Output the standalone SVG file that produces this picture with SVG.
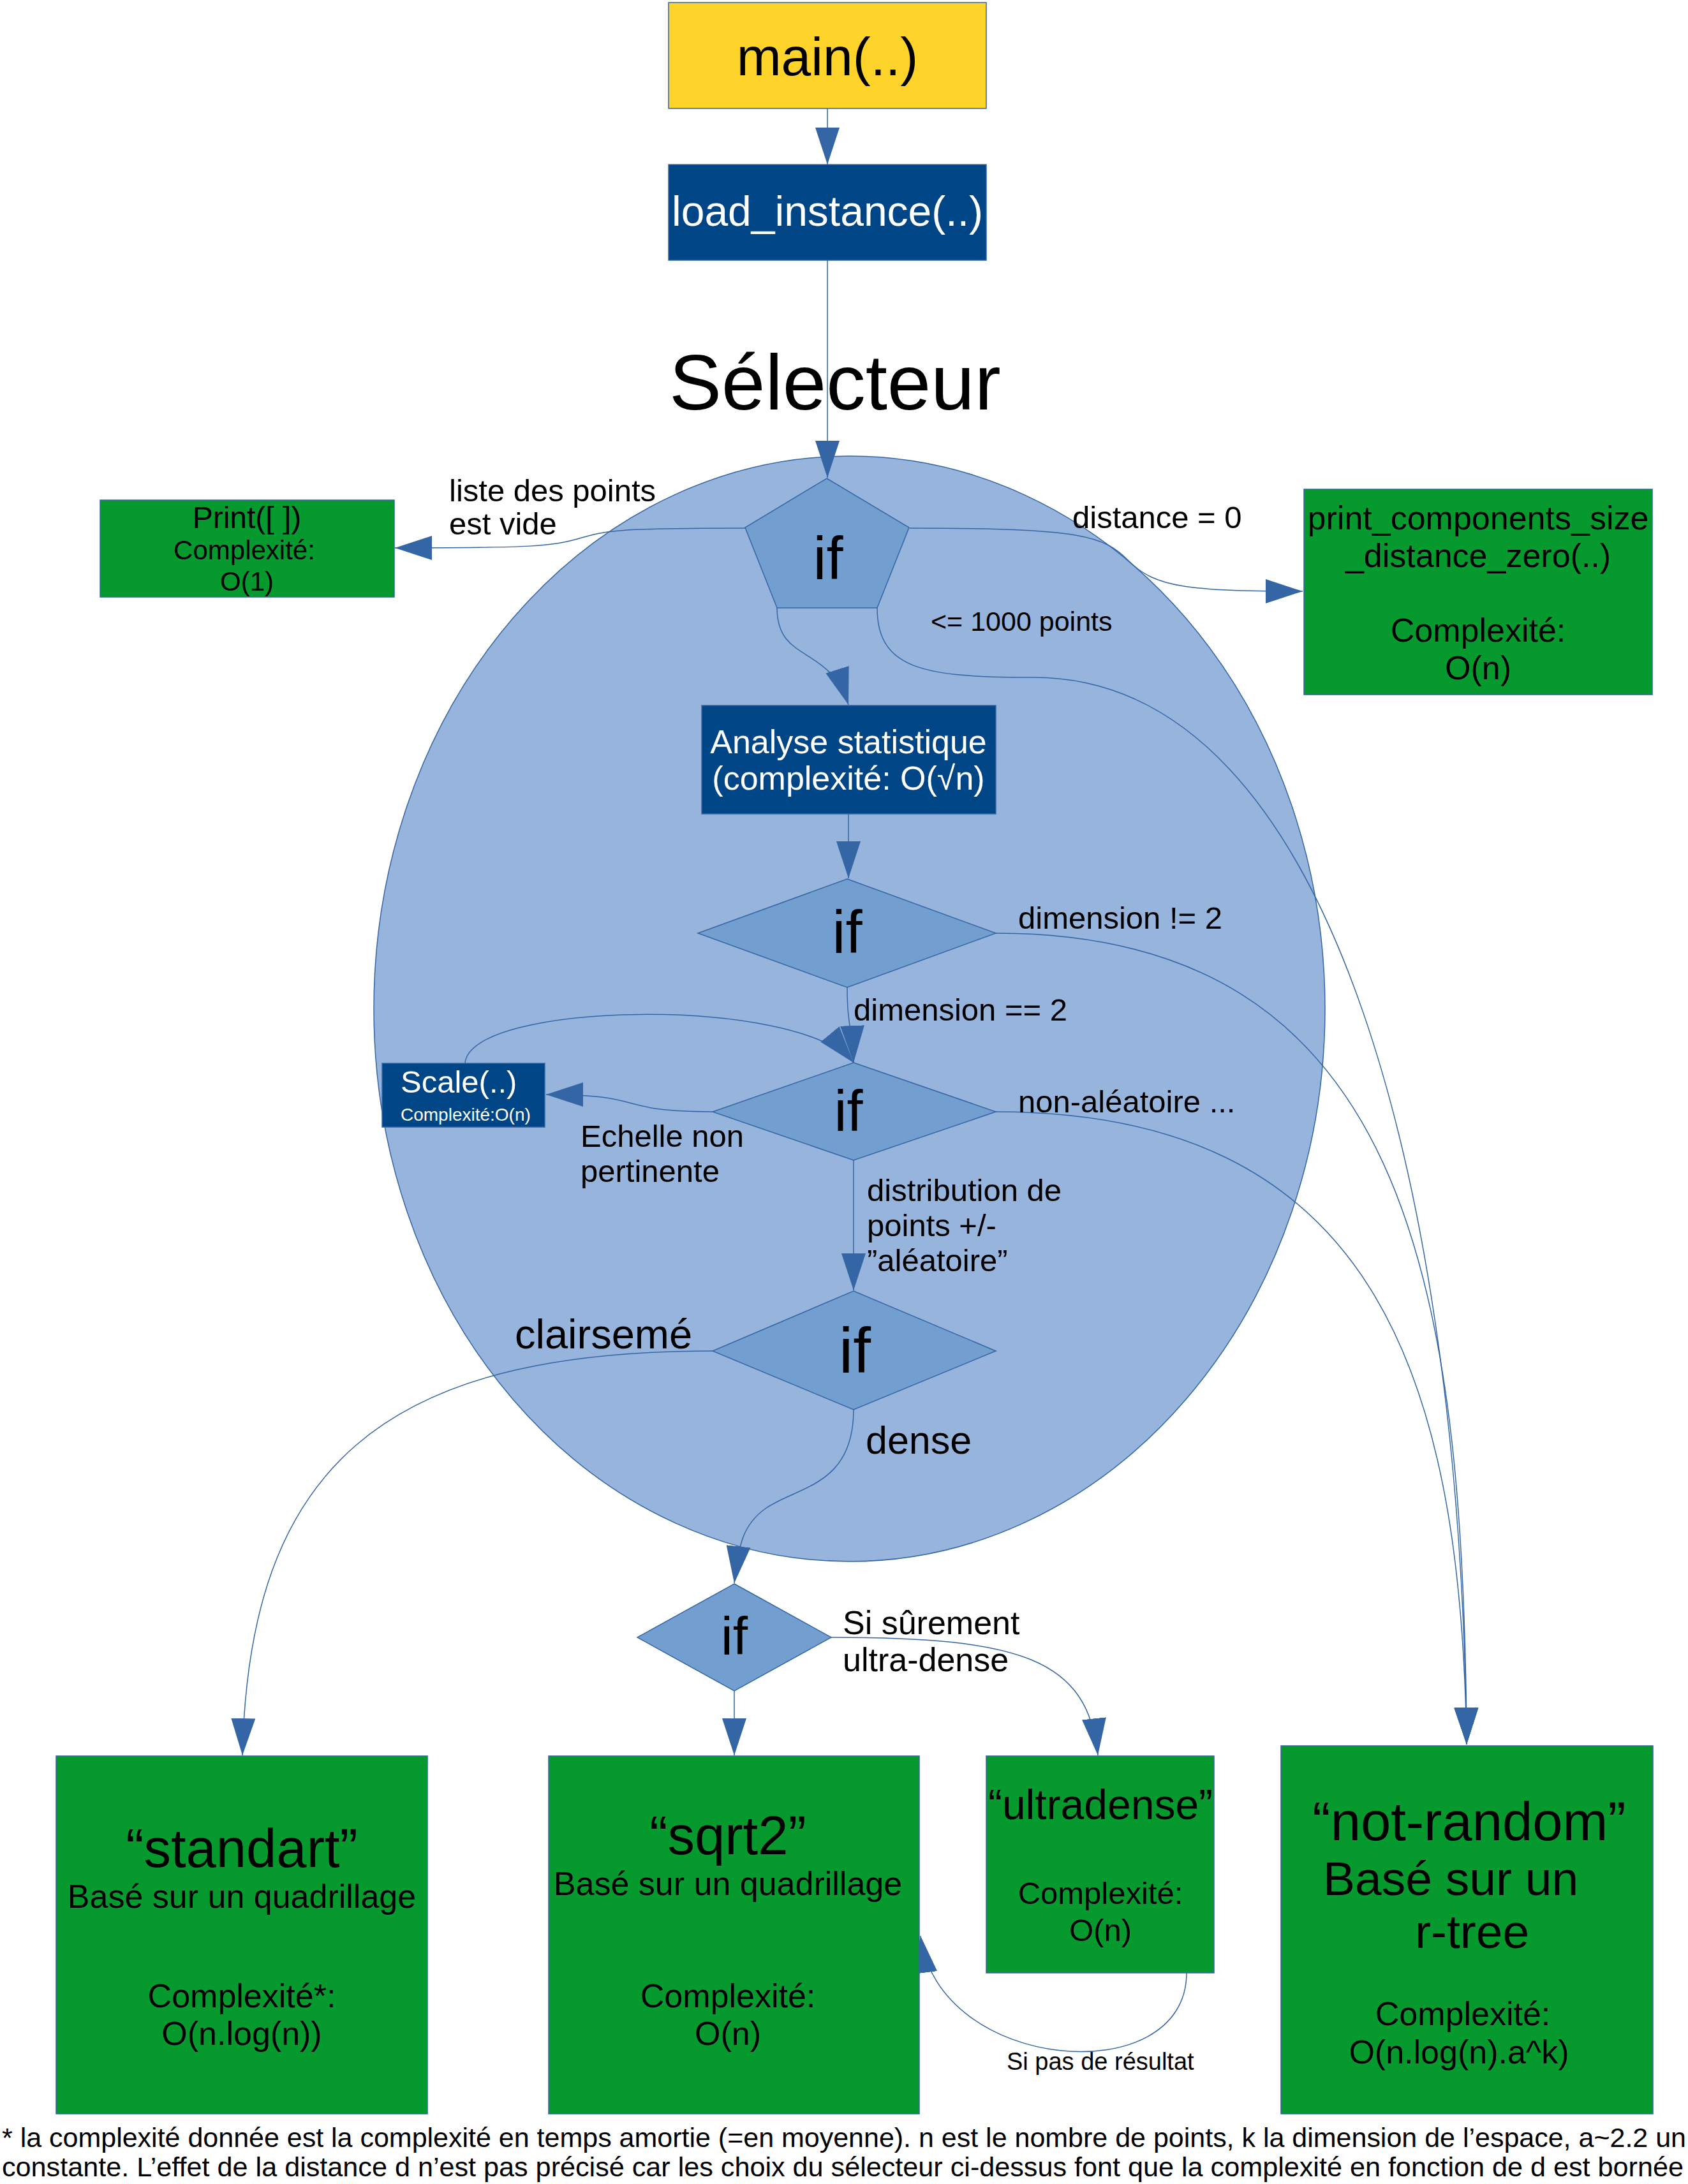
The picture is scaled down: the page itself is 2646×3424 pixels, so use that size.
<svg xmlns="http://www.w3.org/2000/svg" width="2646" height="3424" viewBox="0 0 2646 3424">
<style>
text{font-family:"Liberation Sans",Arial,Helvetica,sans-serif;fill:#000}
.w{fill:#fff}
.m{text-anchor:middle}
.box{stroke:#3465a4;stroke-width:1.5}
.g{fill:#069a2e}
.b{fill:#004586}
.dec{fill:#729fcf;stroke:#3465a4;stroke-width:1.5}
.con{fill:none;stroke:#3465a4;stroke-width:1.5;marker-end:url(#arr)}
.l49{font-size:49px}
</style>
<defs>
<marker id="arr" markerUnits="userSpaceOnUse" viewBox="0 0 58 38" refX="58" refY="19" markerWidth="58" markerHeight="38" orient="auto">
<path d="M0,0 L58,19 L0,38 Z" fill="#3465a4"/>
</marker>
</defs>
<rect width="2646" height="3424" fill="#fff"/>

<g id="selecteur">
<ellipse cx="1331.5" cy="1581.5" rx="745.5" ry="866.5" fill="#96b4dc" stroke="#3465a4" stroke-width="1.5"/>
<text x="1049" y="642" font-size="123">Sélecteur</text>
</g>

<g id="connectors">
<path class="con" d="M1297,170 L1297,258"/>
<path class="con" d="M1297,408 L1297,749"/>
<path class="con" d="M1168,828 C960,828 950,832 905,845 C865,856 840,859 619,859"/>
<path class="con" d="M1426,828 C1700,828 1730,840 1770,880 C1810,920 1860,927 2042,927"/>
<path class="con" d="M1218,953 C1218,1040 1300,1010 1330,1105"/>
<path class="con" d="M1375,953 C1375,1050 1450,1062 1620,1062 C2100,1062 2290,1900 2299,2735"/>
<path class="con" d="M1330,1276 L1330,1377"/>
<path class="con" d="M1561,1463 C2200,1463 2295,2000 2299,2735"/>
<path class="con" d="M1328,1548 C1328,1610 1336,1610 1338,1666"/>
<path class="con" d="M729,1667 C735,1570 1250,1560 1338,1666"/>
<path class="con" d="M1117,1743 C960,1743 1020,1716 856,1716"/>
<path class="con" d="M1561,1743 C2150,1743 2290,2150 2299,2735"/>
<path class="con" d="M1338,1819 L1338,2023"/>
<path class="con" d="M1117,2118 C600,2118 390,2300 380,2752"/>
<path class="con" d="M1338,2210 C1338,2330 1250,2330 1200,2365 C1165,2390 1158,2420 1151,2482"/>
<path class="con" d="M1303,2567 C1600,2567 1705,2600 1721,2752"/>
<path class="con" d="M1151,2651 L1151,2752"/>
<path class="con" d="M1860,3093 C1860,3280 1470,3250 1443,3035"/>
</g>

<g id="labels">
<text class="l49" x="704" y="786">liste des points</text>
<text class="l49" x="704" y="838">est vide</text>
<text class="l49" x="1681" y="828">distance = 0</text>
<text x="1459" y="989" font-size="43">&lt;= 1000 points</text>
<text class="l49" x="1596" y="1456">dimension != 2</text>
<text class="l49" x="1338" y="1600">dimension == 2</text>
<text class="l49" x="1596" y="1744">non-aléatoire ...</text>
<text class="l49" x="910" y="1798">Echelle non</text>
<text class="l49" x="910" y="1853">pertinente</text>
<text class="l49" x="1359" y="1883">distribution de</text>
<text class="l49" x="1359" y="1938">points +/-</text>
<text class="l49" x="1359" y="1993">”aléatoire”</text>
<text x="807" y="2114" font-size="65">clairsemé</text>
<text x="1357" y="2279" font-size="61">dense</text>
<text x="1321" y="2562" font-size="52">Si sûrement</text>
<text x="1321" y="2620" font-size="52">ultra-dense</text>
<text x="1578" y="3245" font-size="38">Si pas de résultat</text>
</g>

<g id="main">
<rect class="box" x="1048" y="4" width="498" height="166" fill="#ffd42a"/>
<text class="m" x="1297" y="118" font-size="84">main(..)</text>
</g>

<g id="load_instance">
<rect class="box b" x="1048" y="258" width="498" height="150"/>
<text class="m w" x="1297" y="354" font-size="66">load_instance(..)</text>
</g>

<g id="if_vide">
<polygon class="dec" points="1296,750 1425,827 1375,953 1218,953 1168,827"/>
<text class="m" x="1298" y="908" font-size="94">if</text>
</g>

<g id="print_vide">
<rect class="box g" x="157" y="784" width="461" height="152"/>
<text class="m" x="387" y="828" font-size="48">Print([ ])</text>
<text class="m" x="383" y="877" font-size="42">Complexité:</text>
<text class="m" x="387" y="926" font-size="42">O(1)</text>
</g>

<g id="print_components">
<rect class="box g" x="2044" y="767" width="546" height="322"/>
<text class="m" x="2317" y="830" font-size="52">print_components_size</text>
<text class="m" x="2317" y="889" font-size="52">_distance_zero(..)</text>
<text class="m" x="2317" y="1006" font-size="52">Complexité:</text>
<text class="m" x="2317" y="1065" font-size="52">O(n)</text>
</g>

<g id="analyse">
<rect class="box b" x="1100" y="1106" width="461" height="170"/>
<text class="m w" x="1330" y="1181" font-size="52">Analyse statistique</text>
<text class="m w" x="1330" y="1238" font-size="52">(complexité: O(√n)</text>
</g>

<g id="if_dimension">
<polygon class="dec" points="1328,1378 1561,1463 1328,1548 1094,1463"/>
<text class="m" x="1328" y="1494" font-size="94">if</text>
</g>

<g id="if_echelle">
<polygon class="dec" points="1338,1666 1561,1743 1338,1819 1117,1743"/>
<text class="m" x="1330" y="1773" font-size="90">if</text>
</g>

<g id="scale">
<rect class="box b" x="599" y="1667" width="255" height="100"/>
<text class="w" x="628" y="1713" font-size="49">Scale(..)</text>
<text class="w" x="628" y="1757" font-size="28">Complexité:O(n)</text>
</g>

<g id="if_densite">
<polygon class="dec" points="1338,2024 1561,2118 1338,2210 1117,2118"/>
<text class="m" x="1340" y="2152" font-size="100">if</text>
</g>

<g id="if_ultradense">
<polygon class="dec" points="1151,2483 1303,2567 1151,2651 999,2567"/>
<text class="m" x="1151" y="2594" font-size="84">if</text>
</g>

<g id="standart">
<rect class="box g" x="88" y="2753" width="582" height="561"/>
<text class="m" x="379" y="2927" font-size="85">“standart”</text>
<text class="m" x="379" y="2991" font-size="52">Basé sur un quadrillage</text>
<text class="m" x="379" y="3147" font-size="52">Complexité*:</text>
<text class="m" x="379" y="3206" font-size="52">O(n.log(n))</text>
</g>

<g id="sqrt2">
<rect class="box g" x="860" y="2753" width="581" height="561"/>
<text class="m" x="1141" y="2907" font-size="85">“sqrt2”</text>
<text class="m" x="1141" y="2971" font-size="52">Basé sur un quadrillage</text>
<text class="m" x="1141" y="3147" font-size="52">Complexité:</text>
<text class="m" x="1141" y="3206" font-size="52">O(n)</text>
</g>

<g id="ultradense">
<rect class="box g" x="1546" y="2753" width="357" height="340"/>
<text class="m" x="1725" y="2852" font-size="66">“ultradense”</text>
<text class="m" x="1725" y="2985" font-size="49">Complexité:</text>
<text class="m" x="1725" y="3043" font-size="49">O(n)</text>
</g>

<g id="not_random">
<rect class="box g" x="2008" y="2737" width="583" height="577"/>
<text class="m" x="2303" y="2885" font-size="85">“not-random”</text>
<text x="2074" y="2971" font-size="75">Basé sur un</text>
<text x="2218" y="3054" font-size="75">r-tree</text>
<text class="m" x="2293" y="3175" font-size="52">Complexité:</text>
<text class="m" x="2287" y="3235" font-size="52">O(n.log(n).a^k)</text>
</g>

<g id="footnote">
<text x="3" y="3366" font-size="43" textLength="2640" lengthAdjust="spacingAndGlyphs">* la complexité donnée est la complexité en temps amortie (=en moyenne). n est le nombre de points, k la dimension de l’espace, a~2.2 un</text>
<text x="3" y="3412" font-size="43" textLength="2636" lengthAdjust="spacingAndGlyphs">constante. L’effet de la distance d n’est pas précisé car les choix du sélecteur ci-dessus font que la complexité en fonction de d est bornée</text>
</g>
</svg>
